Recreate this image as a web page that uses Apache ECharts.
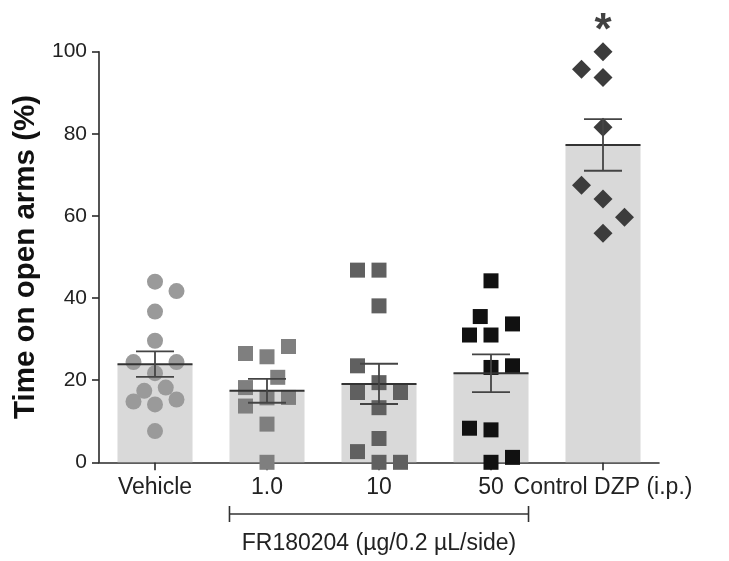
<!DOCTYPE html>
<html>
<head>
<meta charset="utf-8">
<script src="https://cdn.jsdelivr.net/npm/echarts@6/dist/echarts.min.js"></script>
<style>
  html, body { margin: 0; padding: 0; background: #ffffff; }
  #chart { width: 729px; height: 561px; }
</style>
</head>
<body>
<div id="chart"></div>
<script>
// Groups on the x axis
const categories = ['Vehicle', '1.0', '10', '50', 'Control DZP (i.p.)'];
const yTicks = [0, 20, 40, 60, 80, 100];

// Group means and SEM (%)
const groupMeans = [23.9, 17.4, 19.1, 21.7, 77.3];
const groupSem = [3.1, 2.9, 4.9, 4.6, 6.3];

// Individual animals: [column slot within the group, % time on open arms]
const vehiclePts = [[0, 44.0], [2, 41.7], [0, 36.7], [0, 29.6], [-2, 24.4], [2, 24.4], [0, 21.7],
                    [-1, 17.4], [1, 18.2], [-2, 14.8], [2, 15.3], [0, 14.1], [0, 7.6]];
const dose1Pts = [[-2, 26.5], [0, 25.7], [2, 28.2], [1, 20.7], [-2, 18.2], [0, 15.7], [2, 15.8],
                  [-2, 13.7], [0, 9.3], [0, 0]];
const dose10Pts = [[-2, 46.8], [0, 46.8], [0, 38.1], [-2, 23.5], [0, 19.4], [-2, 17.0], [2, 17.0],
                   [0, 13.3], [0, 5.8], [-2, 2.6], [0, 0], [2, 0]];
const dose50Pts = [[0, 44.2], [-1, 35.5], [2, 33.7], [-2, 31.0], [0, 31.0], [0, 23.1], [2, 23.5],
                   [-2, 8.3], [0, 7.9], [0, 0], [2, 1.2]];
const dzpPts = [[0, 100], [-2, 95.7], [0, 93.7], [0, 81.6], [-2, 67.5], [0, 64.1], [2, 59.7], [0, 55.8]];

// Significant group marker
const sigGroup = 4;
const sigMark = '*';

// Bracket for the FR180204 dose groups
const bracketGroups = [1, 3];
const bracketLabel = 'FR180204 (\u00b5g/0.2 \u00b5L/side)';

const slotStep = 0.096;          // width of one jitter column, in category units
const barRatio = 0.67;           // bar width as share of the category band
const tickFont = 'Liberation Sans, Arial, sans-serif';

const groupStyles = [
  { pts: vehiclePts, symbol: 'circle', size: 16, color: '#9a9a9a' },
  { pts: dose1Pts,   symbol: 'rect',   size: 15, color: '#7f7f7f' },
  { pts: dose10Pts,  symbol: 'rect',   size: 15, color: '#606060' },
  { pts: dose50Pts,  symbol: 'rect',   size: 15, color: '#111111' },
  { pts: dzpPts,     symbol: 'diamond', size: 19, color: '#3c3c3c' }
];

const chart = echarts.init(document.getElementById('chart'), null, { renderer: 'canvas' });

const scatterSeries = groupStyles.map((g, gi) => ({
  type: 'scatter',
  xAxisIndex: 1,
  yAxisIndex: 0,
  symbol: g.symbol,
  symbolSize: g.size,
  clip: false,
  z: 3,
  itemStyle: { color: g.color, opacity: 1 },
  data: g.pts.map(p => [gi + p[0] * slotStep, p[1]]),
  silent: true
}));

const option = {
  animation: false,
  backgroundColor: '#ffffff',
  grid: { left: 99, right: 70, top: 51.7, bottom: 98.7, containLabel: false },
  xAxis: [
    {
      type: 'category',
      data: categories,
      boundaryGap: true,
      axisLine: { show: true, onZero: false, lineStyle: { color: '#2a2a2a', width: 1.6 } },
      axisTick: { show: true, alignWithLabel: true, length: 8, lineStyle: { color: '#2a2a2a', width: 1.6 } },
      axisLabel: { color: '#222', fontSize: 23, fontFamily: tickFont, margin: 14, interval: 0 },
      splitLine: { show: false }
    },
    {
      type: 'value',
      min: -0.5,
      max: categories.length - 0.5,
      show: false,
      axisLine: { onZero: false }
    }
  ],
  yAxis: {
    type: 'value',
    min: yTicks[0],
    max: yTicks[yTicks.length - 1],
    interval: yTicks[1] - yTicks[0],
    name: 'Time on open arms (%)',
    nameLocation: 'middle',
    nameRotate: 90,
    nameGap: 55,
    nameTextStyle: { color: '#111', fontSize: 29.5, fontWeight: 'bold', fontFamily: tickFont },
    axisLine: { show: true, onZero: false, lineStyle: { color: '#2a2a2a', width: 1.6 } },
    axisTick: { show: true, length: 7, lineStyle: { color: '#2a2a2a', width: 1.6 } },
    axisLabel: { color: '#222', fontSize: 21, fontFamily: tickFont, margin: 12 },
    splitLine: { show: false }
  },
  series: [
    {
      type: 'bar',
      data: groupMeans,
      barWidth: (barRatio * 100) + '%',
      itemStyle: { color: '#d9d9d9' },
      z: 1,
      silent: true
    },
    ...scatterSeries,
    {
      // mean line and SEM whiskers
      type: 'custom',
      xAxisIndex: 0,
      yAxisIndex: 0,
      z: 4,
      silent: true,
      data: groupMeans.map((m, i) => [i, m, groupSem[i]]),
      renderItem: function (params, api) {
        const idx = api.value(0);
        const mean = api.value(1);
        const sem = api.value(2);
        const c = api.coord([idx, mean]);
        const top = api.coord([idx, mean + sem]);
        const bot = api.coord([idx, mean - sem]);
        const band = api.size([1, 0])[0];
        const half = band * barRatio / 2;
        const cap = 19;
        const st = { stroke: '#333', lineWidth: 2 };
        const wst = { stroke: '#444', lineWidth: 1.8 };
        return {
          type: 'group',
          children: [
            { type: 'line', shape: { x1: c[0] - half, y1: c[1], x2: c[0] + half, y2: c[1] }, style: st },
            { type: 'line', shape: { x1: c[0], y1: top[1], x2: c[0], y2: bot[1] }, style: wst },
            { type: 'line', shape: { x1: c[0] - cap, y1: top[1], x2: c[0] + cap, y2: top[1] }, style: wst },
            { type: 'line', shape: { x1: c[0] - cap, y1: bot[1], x2: c[0] + cap, y2: bot[1] }, style: wst }
          ]
        };
      }
    },
    {
      // significance marker above the highest animal of the group
      type: 'scatter',
      xAxisIndex: 0,
      yAxisIndex: 0,
      clip: false,
      symbolSize: 0,
      silent: true,
      data: [[sigGroup, Math.max(...dzpPts.map(p => p[1]))]],
      label: {
        show: true,
        position: 'top',
        distance: -2,
        formatter: sigMark,
        color: '#111',
        fontSize: 44,
        fontWeight: 'bold',
        fontFamily: tickFont
      }
    }
  ]
};

chart.setOption(option);

// Bracket under the dose groups, spanning their bars
const band = chart.convertToPixel({ xAxisIndex: 0 }, categories[1]) - chart.convertToPixel({ xAxisIndex: 0 }, categories[0]);
const halfBar = band * barRatio / 2;
const bx1 = chart.convertToPixel({ xAxisIndex: 0 }, categories[bracketGroups[0]]) - halfBar;
const bx2 = chart.convertToPixel({ xAxisIndex: 0 }, categories[bracketGroups[1]]) + halfBar;
const by = 514;
chart.setOption({
  graphic: [
    { type: 'line', shape: { x1: bx1, y1: by, x2: bx2, y2: by }, style: { stroke: '#333', lineWidth: 1.6 } },
    { type: 'line', shape: { x1: bx1, y1: by - 8, x2: bx1, y2: by + 8 }, style: { stroke: '#333', lineWidth: 1.6 } },
    { type: 'line', shape: { x1: bx2, y1: by - 8, x2: bx2, y2: by + 8 }, style: { stroke: '#333', lineWidth: 1.6 } },
    {
      type: 'text',
      x: (bx1 + bx2) / 2,
      y: 544,
      style: {
        text: bracketLabel,
        fill: '#222',
        font: '23px Liberation Sans, Arial, sans-serif',
        textAlign: 'center',
        textVerticalAlign: 'middle'
      }
    }
  ]
});
</script>
</body>
</html>
